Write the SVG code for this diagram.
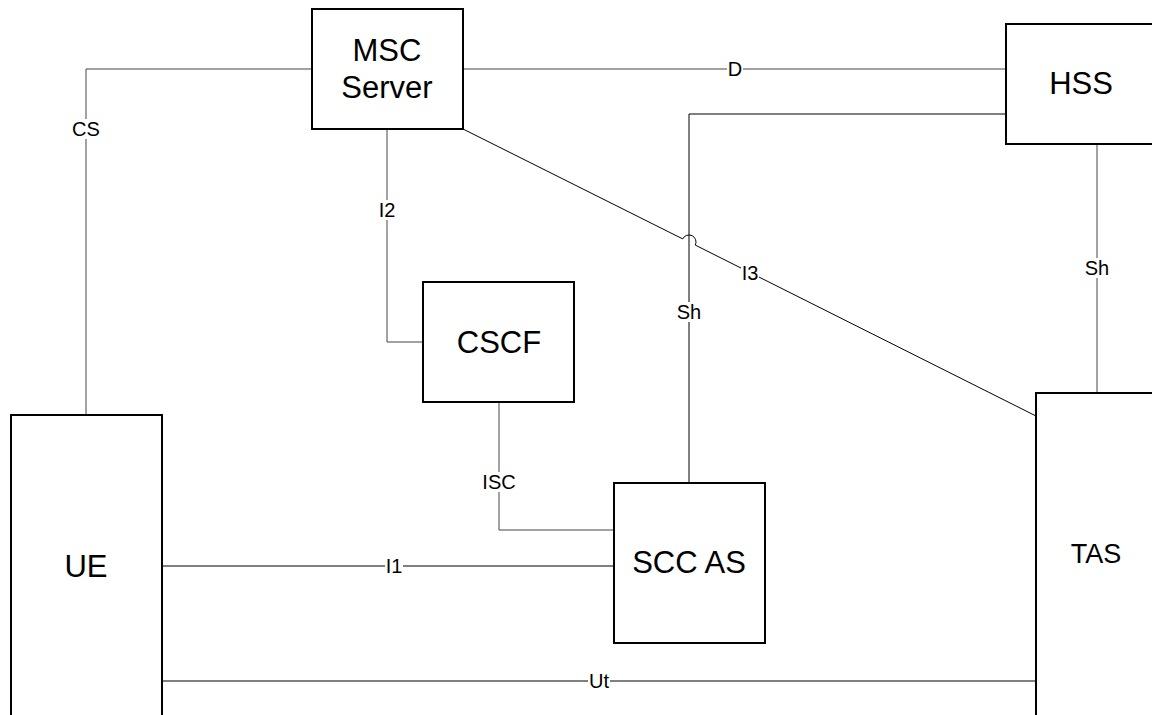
<svg xmlns="http://www.w3.org/2000/svg" width="1152" height="715" viewBox="0 0 1152 715">
<style>
.box{fill:#fff;stroke:#000;stroke-width:2}
.name{font-family:"Liberation Sans",Arial,sans-serif;font-size:31px;fill:#000;text-anchor:middle}
.lnk{fill:none;stroke:#000;stroke-width:1}
.gry{stroke:#444}
.bg{fill:#fff}
.lbl{font-family:"Liberation Sans",Arial,sans-serif;font-size:20px;fill:#000;text-anchor:middle}
</style>
<rect width="1152" height="715" fill="#fff"/>
<g id="connectors">
<path class="lnk gry" d="M312,69 H86 V415"/>
<path class="lnk gry" d="M463,69 H1006"/>
<path class="lnk" d="M1006,114 H689 V483"/>
<path class="lnk" d="M463,129 L682.7,238.9 A7,7 0 0 1 695.3,245.1 L1036,416"/>
<path class="lnk gry" d="M387,129 V342 H423"/>
<path class="lnk gry" d="M499,402 V530 H614"/>
<path class="lnk" d="M162,566 H614"/>
<path class="lnk" d="M162,681 H1036"/>
<path class="lnk gry" d="M1097,144 V393"/>
<rect class="bg" x="71" y="119" width="30" height="20"/>
<text class="lbl" x="86" y="136">CS</text>
<rect class="bg" x="727" y="59" width="16" height="20"/>
<text class="lbl" x="735" y="76">D</text>
<rect class="bg" x="676" y="302" width="26" height="20"/>
<text class="lbl" x="689" y="319">Sh</text>
<rect class="bg" x="741" y="262" width="18" height="20"/>
<text class="lbl" x="750" y="280">I3</text>
<rect class="bg" x="378" y="200" width="18" height="20"/>
<text class="lbl" x="387" y="217">I2</text>
<rect class="bg" x="482" y="472" width="35" height="20"/>
<text class="lbl" x="499" y="489">ISC</text>
<rect class="bg" x="385" y="556" width="18" height="20"/>
<text class="lbl" x="394" y="573">I1</text>
<rect class="bg" x="588" y="671" width="22" height="20"/>
<text class="lbl" x="599" y="688">Ut</text>
<rect class="bg" x="1084" y="258" width="26" height="20"/>
<text class="lbl" x="1097" y="275">Sh</text>
</g>
<g id="msc">
<rect class="box" x="312" y="9" width="151" height="120"/>
<text class="name" x="387" y="61">MSC</text>
<text class="name" x="387" y="98">Server</text>
</g>
<g id="hss">
<rect class="box" x="1006" y="24" width="170" height="120"/>
<text class="name" x="1081" y="94">HSS</text>
</g>
<g id="cscf">
<rect class="box" x="423" y="282" width="151" height="120"/>
<text class="name" x="499" y="353">CSCF</text>
</g>
<g id="sccas">
<rect class="box" x="614" y="483" width="151" height="160"/>
<text class="name" x="689" y="573">SCC AS</text>
</g>
<g id="ue">
<rect class="box" x="11" y="415" width="151" height="330"/>
<text class="name" x="86" y="577">UE</text>
</g>
<g id="tas">
<rect class="box" x="1036" y="393" width="160" height="350"/>
<text class="name" x="1096" y="563" style="font-size:27px">TAS</text>
</g>
</svg>
